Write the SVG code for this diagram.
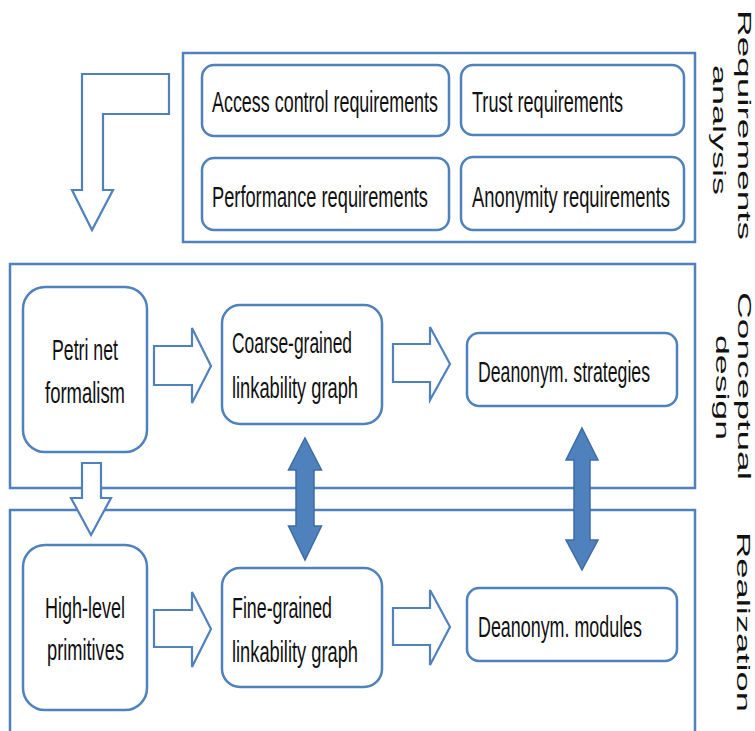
<svg xmlns="http://www.w3.org/2000/svg" width="755" height="731" viewBox="0 0 755 731">
<style>
.frame{fill:none;stroke:#4F81BD;stroke-width:2.5}
.box{fill:#fff;stroke:#4F81BD;stroke-width:2.5}
.oarrow{fill:#fff;stroke:#4F81BD;stroke-width:2.2;stroke-linejoin:miter}
.farrow{fill:#4F81BD;stroke:#3E6CA6;stroke-width:1.5}
.t{font-family:"Liberation Sans",Arial,sans-serif;font-size:18px;fill:#111}
.side{font-family:"Liberation Sans",Arial,sans-serif;font-size:18px;fill:#111}
</style>
<rect width="755" height="731" fill="#fff"/>

<g id="stage-requirements">
<rect class="frame" x="183" y="53" width="512" height="189"/>
<text class="side" transform="translate(738,10) rotate(90) scale(2,1)" textLength="115" lengthAdjust="spacingAndGlyphs">Requirements</text>
<text class="side" transform="translate(713,65) rotate(90) scale(2,1)" textLength="65" lengthAdjust="spacingAndGlyphs">analysis</text>
</g>
<g id="stage-conceptual">
<rect class="frame" x="10" y="264" width="685" height="224"/>
<text class="side" transform="translate(738,292) rotate(90) scale(2,1)" textLength="94" lengthAdjust="spacingAndGlyphs">Conceptual</text>
<text class="side" transform="translate(716,335) rotate(90) scale(2,1)" textLength="52.5" lengthAdjust="spacingAndGlyphs">design</text>
</g>
<g id="stage-realization">
<rect class="frame" x="10" y="510" width="685" height="240"/>
<text class="side" transform="translate(737,532) rotate(90) scale(2,1)" textLength="90" lengthAdjust="spacingAndGlyphs">Realization</text>
</g>

<g id="access">
<rect class="box" x="202" y="65" width="247" height="71" rx="12"/>
<text class="t" transform="translate(212,112) scale(1,1.6)" textLength="226" lengthAdjust="spacingAndGlyphs">Access control requirements</text>
</g>
<g id="trust">
<rect class="box" x="461" y="65" width="223" height="70" rx="12"/>
<text class="t" transform="translate(472,112) scale(1,1.6)" textLength="151" lengthAdjust="spacingAndGlyphs">Trust requirements</text>
</g>
<g id="performance">
<rect class="box" x="202" y="158" width="247" height="72" rx="12"/>
<text class="t" transform="translate(212,207) scale(1,1.6)" textLength="216" lengthAdjust="spacingAndGlyphs">Performance requirements</text>
</g>
<g id="anonymity">
<rect class="box" x="461" y="157" width="223" height="73" rx="12"/>
<text class="t" transform="translate(472,207) scale(1,1.6)" textLength="198" lengthAdjust="spacingAndGlyphs">Anonymity requirements</text>
</g>

<g id="petri">
<rect class="box" x="23" y="287" width="124" height="165" rx="22"/>
<text class="t" transform="translate(52,360) scale(1,1.6)" textLength="66" lengthAdjust="spacingAndGlyphs">Petri net</text>
<text class="t" transform="translate(45,403) scale(1,1.6)" textLength="80" lengthAdjust="spacingAndGlyphs">formalism</text>
</g>
<g id="coarse">
<rect class="box" x="222" y="305" width="160" height="119" rx="18"/>
<text class="t" transform="translate(232,353) scale(1,1.6)" textLength="120" lengthAdjust="spacingAndGlyphs">Coarse-grained</text>
<text class="t" transform="translate(232,398) scale(1,1.6)" textLength="126" lengthAdjust="spacingAndGlyphs">linkability graph</text>
</g>
<g id="strategies">
<rect class="box" x="467" y="333" width="210" height="73" rx="12"/>
<text class="t" transform="translate(478,382) scale(1,1.6)" textLength="172" lengthAdjust="spacingAndGlyphs">Deanonym. strategies</text>
</g>
<g id="highlevel">
<rect class="box" x="23" y="545" width="124" height="165" rx="22"/>
<text class="t" transform="translate(45,618) scale(1,1.6)" textLength="80" lengthAdjust="spacingAndGlyphs">High-level</text>
<text class="t" transform="translate(47,660) scale(1,1.6)" textLength="77" lengthAdjust="spacingAndGlyphs">primitives</text>
</g>
<g id="fine">
<rect class="box" x="222" y="568" width="160" height="119" rx="18"/>
<text class="t" transform="translate(232,618) scale(1,1.6)" textLength="100" lengthAdjust="spacingAndGlyphs">Fine-grained</text>
<text class="t" transform="translate(232,662) scale(1,1.6)" textLength="126" lengthAdjust="spacingAndGlyphs">linkability graph</text>
</g>
<g id="modules">
<rect class="box" x="467" y="588" width="210" height="73" rx="12"/>
<text class="t" transform="translate(478,637) scale(1,1.6)" textLength="164" lengthAdjust="spacingAndGlyphs">Deanonym. modules</text>
</g>

<g id="connectors">
<polygon class="oarrow" points="82,74 169,74 169,114 103,114 103,190 113,190 92,230 72,190 82,190"/>
<polygon class="oarrow" points="154,346 192,346 192,328 211,366 192,403 192,385 154,385"/>
<polygon class="oarrow" points="393,344 430,344 430,327 450,364 430,400 430,382 393,382"/>
<polygon class="oarrow" points="154,610 192,610 192,592 211,629 192,667 192,647 154,647"/>
<polygon class="oarrow" points="393,608 430,608 430,590 450,627 430,665 430,645 393,645"/>
<polygon class="oarrow" points="82,463 101,463 101,498 111,498 91,535 71,498 82,498"/>
<polygon class="farrow" points="305,438 321.5,470 314,470 314,526 321.5,526 305,560 288.5,526 296,526 296,470 288.5,470"/>
<polygon class="farrow" points="582,428 598,460 590,460 590,540 598,540 582,570 566,540 574,540 574,460 566,460"/>
</g>
</svg>
